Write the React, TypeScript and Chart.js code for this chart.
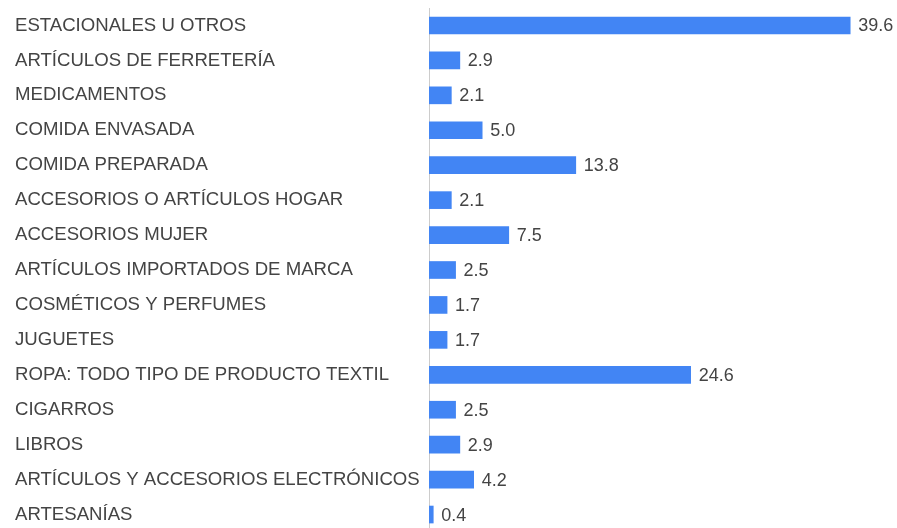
import React, { useEffect, useRef } from "react";
import { Chart, registerables } from "chart.js";

Chart.register(...registerables);

const categories: string[] = [
  "ESTACIONALES U OTROS",
  "ARTÍCULOS DE FERRETERÍA",
  "MEDICAMENTOS",
  "COMIDA ENVASADA",
  "COMIDA PREPARADA",
  "ACCESORIOS O ARTÍCULOS HOGAR",
  "ACCESORIOS MUJER",
  "ARTÍCULOS IMPORTADOS DE MARCA",
  "COSMÉTICOS Y PERFUMES",
  "JUGUETES",
  "ROPA: TODO TIPO DE PRODUCTO TEXTIL",
  "CIGARROS",
  "LIBROS",
  "ARTÍCULOS Y ACCESORIOS ELECTRÓNICOS",
  "ARTESANÍAS",
];

const values: number[] = [39.6, 2.9, 2.1, 5.0, 13.8, 2.1, 7.5, 2.5, 1.7, 1.7, 24.6, 2.5, 2.9, 4.2, 0.4];

const FONT = "'Liberation Sans', Arial, sans-serif";

const valueLabels = {
  id: "valueLabels",
  afterDatasetsDraw(chart: any) {
    const ctx = chart.ctx;
    const meta = chart.getDatasetMeta(0);
    ctx.save();
    ctx.font = `18px ${FONT}`;
    ctx.fillStyle = "#444444";
    ctx.textAlign = "left";
    ctx.textBaseline = "middle";
    meta.data.forEach((el: any, i: number) => {
      const v = chart.data.datasets[0].data[i] as number;
      ctx.fillText(v.toFixed(1), el.x + 8, el.y + 1);
    });
    ctx.restore();
  },
};

export default function App() {
  const ref = useRef<HTMLCanvasElement | null>(null);
  useEffect(() => {
    if (!ref.current) return;
    const chart = new Chart(ref.current, {
      type: "bar",
      data: {
        labels: categories,
        datasets: [
          {
            data: values,
            backgroundColor: "#4285F4",
            borderWidth: 0,
            barThickness: 17,
          },
        ],
      },
      options: {
        indexAxis: "y",
        responsive: false,
        animation: false,
        devicePixelRatio: 1,
        layout: { padding: { left: 15, top: 8, bottom: 8, right: 0 } },
        plugins: {
          legend: { display: false },
          tooltip: { enabled: false },
        },
        scales: {
          x: {
            display: false,
            min: 0,
            max: 44,
          },
          y: {
            grid: { display: false },
            border: { display: true, color: "#cccccc", width: 1 },
            ticks: {
              crossAlign: "far",
              autoSkip: false,
              color: "#444444",
              font: { family: FONT, size: 18.6 },
            },
            afterFit(scale: any) {
              scale.width = 414;
              scale.paddingTop = 0;
              scale.paddingBottom = 0;
            },
          },
        },
      },
      plugins: [valueLabels],
    });
    return () => chart.destroy();
  }, []);
  return (
    <div
      style={{
        position: "absolute",
        left: 0,
        top: 0,
        width: 897,
        height: 528,
        overflow: "hidden",
        background: "#ffffff",
      }}
    >
      <canvas ref={ref} width={897} height={540} style={{ width: 897, height: 540, display: "block" }} />
    </div>
  );
}
